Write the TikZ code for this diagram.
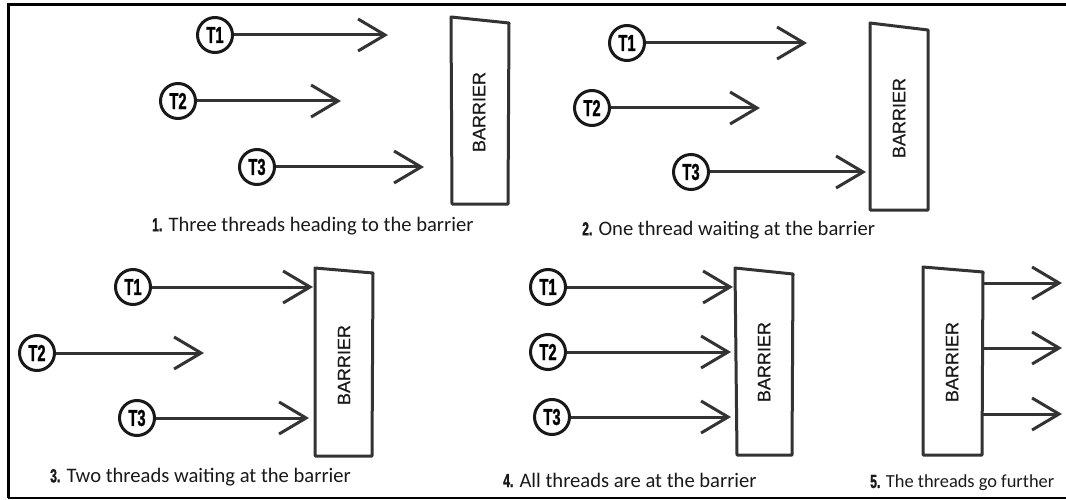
\documentclass[tikz,border=0pt]{standalone}
\usepackage{fontspec}
\setmainfont{Carlito}
\newfontfamily\condfont{Liberation Sans Bold}[FakeStretch=0.64, FakeBold=1.2]
\newfontfamily\wallfont{Liberation Sans}[FakeBold=0.6]
\usetikzlibrary{arrows.meta, positioning}

\begin{document}
\begin{tikzpicture}[
		x=1pt, y=-1pt,
		thread/.style={circle, draw=black!90, line width=3pt, inner sep=0pt, minimum size=35pt,
			font=\condfont\fontsize{23}{23}\selectfont},
		move/.style={draw=black!80, line width=3pt, -{Straight Barb[length=27pt, width=32pt]}},
		wall/.style={draw=black!80, line width=3pt, line join=round},
		wallname/.style={rotate=90, inner sep=0pt, text=black!90,
			font=\wallfont\fontsize{18}{18}\selectfont},
		caption/.style={anchor=west, inner sep=0pt, text=black!90,
			font=\fontsize{20.6}{20.6}\selectfont},
		]
		\useasboundingbox (0,0) rectangle (1066,500);
		% frame
		\draw[line width=3pt] (1066,5) -- (8,5) -- (8,498);
		\draw[line width=2pt] (8,498) -- (1066,498);

		% 1. three threads heading to the barrier
		\draw[wall] (451,17) -- (509,23) -- (508,204) -- (452,204) -- cycle;
		\node[wallname] (wall1) at (479,112) {BARRIER};
		\node[thread] (t11) at (215,35) {T1};
		\node[thread] (t12) at (178,101) {T2};
		\node[thread] (t13) at (257,167) {T3};
		\coordinate (e11) at (388,35);
		\coordinate (e12) at (341,101);
		\coordinate (e13) at (424,167);
		\draw[move] (t11) -- (e11);
		\draw[move] (t12) -- (e12);
		\draw[move] (t13) -- (e13);
		\node[caption] (cap1) at (152,226) {{\condfont\fontsize{19}{19}\selectfont 1.} Three threads heading to the barrier};

		% 2. one thread waiting
		\draw[wall] (870,23) -- (928,30) -- (928,210) -- (870,210) -- cycle;
		\node[wallname] (wall2) at (899,118) {BARRIER};
		\node[thread] (t21) at (627,43) {T1};
		\node[thread] (t22) at (592,108) {T2};
		\node[thread] (t23) at (691,172) {T3};
		\coordinate (e21) at (807,43);
		\coordinate (e22) at (760,108);
		\coordinate (e23) at (866,172);
		\draw[move] (t21) -- (e21);
		\draw[move] (t22) -- (e22);
		\draw[move] (t23) -- (e23);
		\node[caption] (cap2) at (582,230) {{\condfont\fontsize{19}{19}\selectfont 2.} One thread waiting\ at the barrier};

		% 3. two threads waiting
		\draw[wall] (315,268) -- (373,273) -- (372,456) -- (315,456) -- cycle;
		\node[wallname] (wall3) at (344,365) {BARRIER};
		\node[thread] (t31) at (133,287) {T1};
		\node[thread] (t32) at (37,353) {T2};
		\node[thread] (t33) at (137,418) {T3};
		\coordinate (e31) at (313,287);
		\coordinate (e32) at (204,353);
		\coordinate (e33) at (309,418);
		\draw[move] (t31) -- (e31);
		\draw[move] (t32) -- (e32);
		\draw[move] (t33) -- (e33);
		\node[caption] (cap3) at (50,477) {{\condfont\fontsize{19}{19}\selectfont 3.} Two threads waiting at the barrier};

		% 4. all threads at the barrier
		\draw[wall] (735,268) -- (793,274) -- (792,455) -- (737,455) -- cycle;
		\node[wallname] (wall4) at (764,362) {BARRIER};
		\node[thread] (t41) at (548,287) {T1};
		\node[thread] (t42) at (548,352) {T2};
		\node[thread] (t43) at (552,417) {T3};
		\coordinate (e41) at (733,287);
		\coordinate (e42) at (731,352);
		\coordinate (e43) at (731,417);
		\draw[move] (t41) -- (e41);
		\draw[move] (t42) -- (e42);
		\draw[move] (t43) -- (e43);
		\node[caption] (cap4) at (503,480) {{\condfont\fontsize{19}{19}\selectfont 4.} All threads are at the barrier};

		% 5. the threads go further
		\draw[wall] (923,267) -- (983,272) -- (982,455) -- (923,455) -- cycle;
		\node[wallname] (wall5) at (952,362) {BARRIER};
		\coordinate (s51) at (983,283);
		\coordinate (s52) at (983,348);
		\coordinate (s53) at (983,414);
		\coordinate (e51) at (1062,283);
		\coordinate (e52) at (1062,348);
		\coordinate (e53) at (1062,414);
		\draw[move] (s51) -- (e51);
		\draw[move] (s52) -- (e52);
		\draw[move] (s53) -- (e53);
		\node[caption, font=\fontsize{18.4}{18.4}\selectfont] (cap5) at (870,483) {{\condfont\fontsize{19}{19}\selectfont 5.} The threads go further};
	\end{tikzpicture}
\end{document}
